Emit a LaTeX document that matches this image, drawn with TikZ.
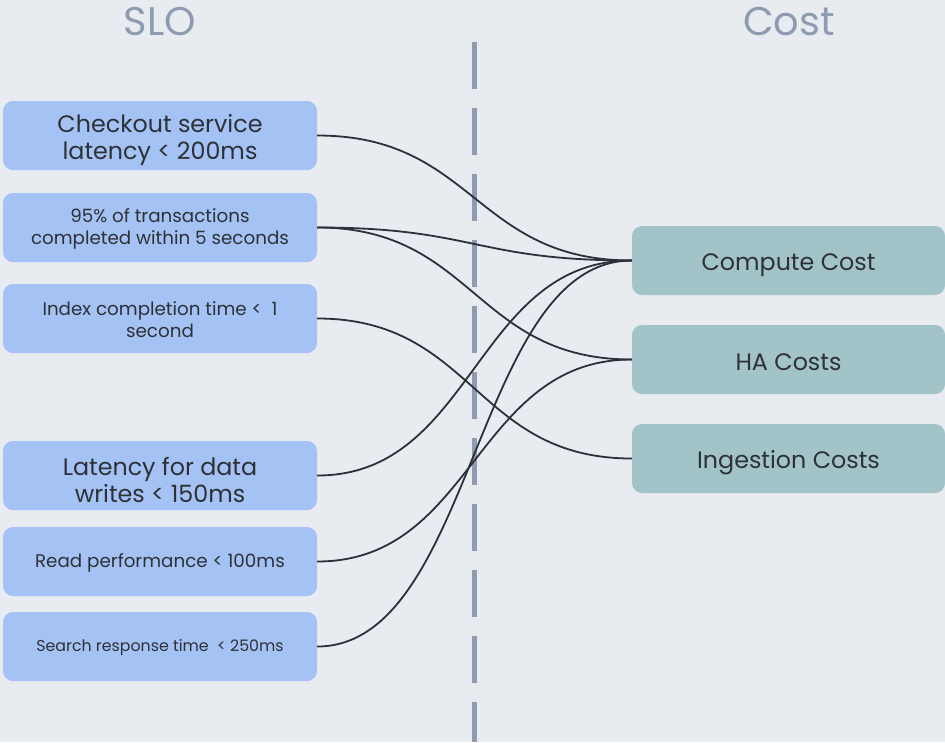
\documentclass[tikz,border=0pt]{standalone}
\usepackage{fontspec}
\setmainfont{Poppins}
\usetikzlibrary{positioning}
\definecolor{bgcol}{HTML}{E8EBF0}
\definecolor{slocol}{HTML}{A4C2F4}
\definecolor{costcol}{HTML}{A2C4C9}
\definecolor{headcol}{HTML}{8E9BB0}
\definecolor{linecol}{HTML}{2B313B}
\definecolor{textcol}{HTML}{2E3136}
% invisible strut to push the text down a little
\newcommand{\lift}[1]{\rule{0pt}{#1}}

\begin{document}
\begin{tikzpicture}[
      x=1pt,y=-1pt,
      slobox/.style={
         rectangle,
         rounded corners=10pt,
         fill=slocol,
         inner sep=0pt,
         minimum width=314pt,
         minimum height=69pt,
         align=center,
         text=textcol},
      costbox/.style={
         slobox,
         fill=costcol,
         minimum width=313pt},
      bigtext/.style={font=\fontsize{23.8}{27}\selectfont},
      smalltext/.style={font=\fontsize{18.3}{22}\selectfont},
      tinytext/.style={font=\fontsize{15.8}{20}\selectfont},
      heading/.style={font=\fontsize{40}{46}\selectfont, text=headcol},
      divider/.style={draw=headcol, line width=5pt, dash pattern=on 47pt off 19pt},
      link/.style={draw=linecol, line width=1.8pt}
      ]
      \fill[bgcol] (0,0) rectangle (945,742);
      \useasboundingbox (0,0) rectangle (945,742);
      \node[heading] (h1) at (160,22) {SLO};
      \node[heading] (h2) at (789,22) {Cost};
      \draw[divider] (474,42) -- (474,742);
      \node[slobox,bigtext] (s1) at (160,135.5) {\lift{27pt}Checkout service\\latency < 200ms};
      \node[slobox,smalltext] (s2) at (160,227.5) {\lift{17pt}95\% of transactions\\completed within 5 seconds};
      \node[slobox,smalltext] (s3) at (160,318.5) {\lift{17pt}Index completion time <\ \ 1\\second};
      \node[slobox,bigtext] (s4) at (160,475.5) {\lift{27pt}Latency for data\\writes < 150ms};
      \node[slobox,smalltext] (s5) at (160,561.5) {\lift{17pt}Read performance < 100ms};
      \node[slobox,tinytext] (s6) at (160,646.5) {\lift{15pt}Search response time\ \ < 250ms};
      \node[costbox,bigtext] (c1) at (788.5,260.5) {\lift{27pt}Compute Cost};
      \node[costbox,bigtext] (c2) at (788.5,359.5) {\rule[-6pt]{0pt}{33pt}HA Costs};
      \node[costbox,bigtext] (c3) at (788.5,458.5) {\lift{27pt}Ingestion Costs};
    \foreach \i/\j in {
      s1/c1,
      s2/c1,
      s2/c2,
      s3/c3,
      s4/c1,
      s5/c2,
      s6/c1}
       \draw [link] (\i.east) .. controls +(157,0) and +(-157,0) .. (\j.west);
\end{tikzpicture}
\end{document}
